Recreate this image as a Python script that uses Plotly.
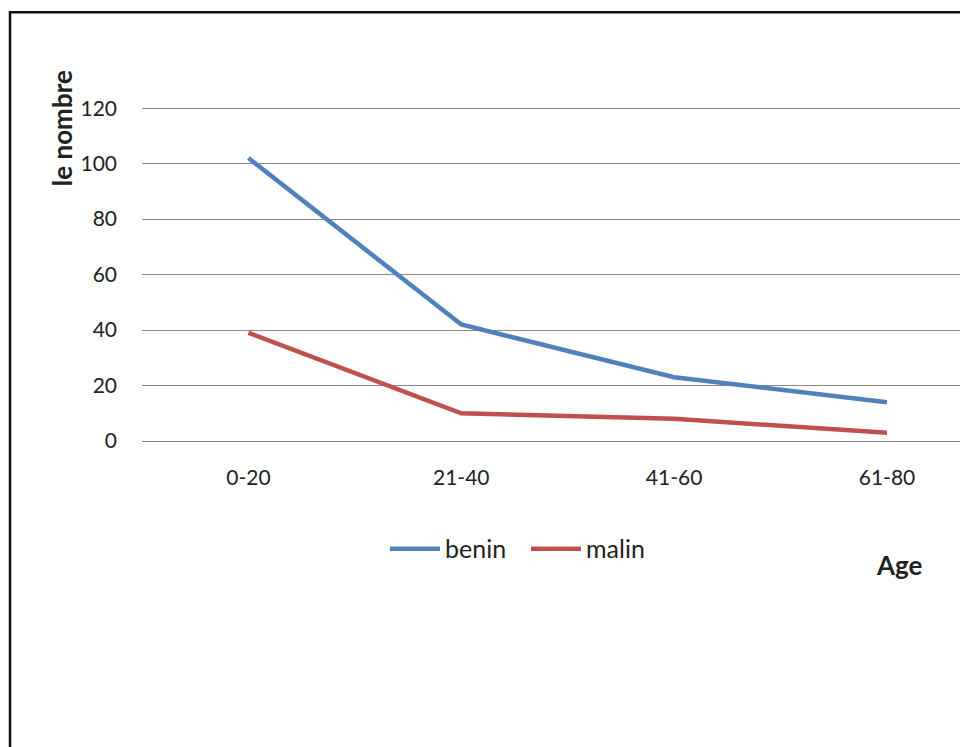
import plotly.graph_objects as go

categories = ["0-20", "21-40", "41-60", "61-80"]
benin = [102, 42, 23, 14]
malin = [39, 10, 8, 3]
y_ticks = [0, 20, 40, 60, 80, 100, 120]
y_max = 121.5

OFF = 8  # page body margin
W, H = 968 - OFF, 747 - OFF
PXU = (441 - 108) / 120.0
L, R, B = 142 - OFF, 960 - OFF, 441 - OFF
T = B - y_max * PXU

def px_x(p):
    return (p - OFF - L) / (R - L)

def px_y(p):
    return (B - (p - OFF)) / (B - T)

FONT = "Lato, 'Open Sans', sans-serif"

fig = go.Figure()
fig.add_trace(go.Scatter(x=categories, y=benin, mode="lines", name="benin",
                         line=dict(color="#4F81BD", width=4.5)))
fig.add_trace(go.Scatter(x=categories, y=malin, mode="lines", name="malin",
                         line=dict(color="#C0504D", width=4.5)))

fig.update_layout(
    width=W, height=H,
    margin=dict(l=L, r=W - R, t=T, b=H - B, pad=0),
    paper_bgcolor="white", plot_bgcolor="white",
    font=dict(family=FONT, size=21, color="#222"),
    showlegend=True,
    legend=dict(orientation="h", x=px_x(526), y=px_y(549), xanchor="center", yanchor="middle",
                font=dict(size=25, family=FONT), itemwidth=50, traceorder="normal",
                entrywidth=76, entrywidthmode="pixels",
                bgcolor="rgba(0,0,0,0)"),
    xaxis=dict(type="category", range=[-0.5, 3.343], showgrid=False, showline=False,
               zeroline=False, ticks="", ticklabelstandoff=22, tickfont=dict(size=21)),
    yaxis=dict(range=[0, y_max], tickvals=y_ticks, showgrid=True, gridcolor="#8a8a8a",
               gridwidth=1.3, zeroline=True, zerolinecolor="#8a8a8a", zerolinewidth=1.3,
               showline=False, ticks="", ticklabelstandoff=24, tickfont=dict(size=21)),
    shapes=[dict(type="rect", xref="paper", yref="paper",
                 x0=px_x(10), x1=px_x(1000), y0=px_y(800), y1=px_y(12),
                 line=dict(color="#111", width=2.5), fillcolor="rgba(0,0,0,0)", layer="below")],
    annotations=[
        dict(text="<b>Age</b>", xref="paper", yref="paper", x=px_x(899), y=px_y(565),
             xanchor="center", yanchor="middle", showarrow=False, font=dict(size=26, family=FONT)),
        dict(text="<b>le nombre</b>", xref="paper", yref="paper", x=px_x(62), y=px_y(128),
             xanchor="center", yanchor="middle", textangle=-90, showarrow=False,
             font=dict(size=26, family=FONT)),
    ],
)

fig.write_html("out.html")
